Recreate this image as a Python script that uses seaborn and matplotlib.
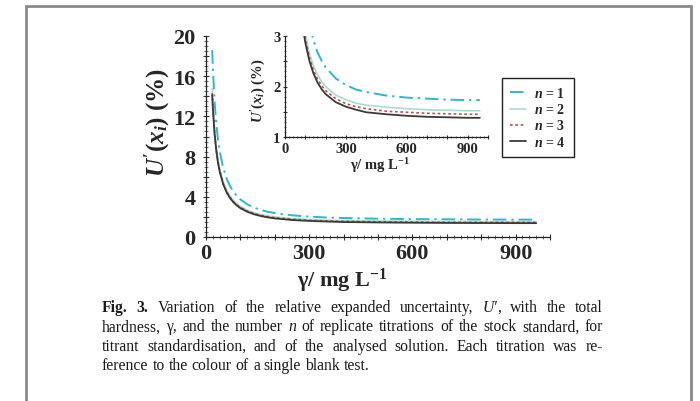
import numpy as np
import pandas as pd
import matplotlib
matplotlib.use("Agg")
import matplotlib.pyplot as plt
import seaborn as sns
from matplotlib.ticker import MultipleLocator, FuncFormatter
from matplotlib.patches import Rectangle
from matplotlib.lines import Line2D
from matplotlib.transforms import IdentityTransform

# ---------------- data ----------------
gamma = [18, 20, 25, 30, 35, 40, 50, 60, 70, 80, 90, 100, 120, 140, 160, 180,
         200, 250, 300, 350, 400, 500, 600, 700, 800, 900, 960]
u_n1 = [18.59, 16.74, 13.43, 11.23, 9.67, 8.50, 6.88, 5.81, 5.05, 4.50, 4.07, 3.74,
        3.25, 2.92, 2.68, 2.51, 2.38, 2.16, 2.03, 1.94, 1.89, 1.82, 1.78, 1.76,
        1.74, 1.73, 1.73]
u_n2 = [14.77, 13.31, 10.69, 8.94, 7.71, 6.78, 5.50, 4.66, 4.06, 3.63, 3.30, 3.04,
        2.66, 2.41, 2.23, 2.10, 2.00, 1.83, 1.74, 1.67, 1.63, 1.59, 1.56, 1.54,
        1.53, 1.52, 1.52]
u_n3 = [14.34, 12.92, 10.37, 8.68, 7.48, 6.58, 5.33, 4.51, 3.94, 3.51, 3.19, 2.94,
        2.57, 2.32, 2.15, 2.02, 1.92, 1.76, 1.66, 1.60, 1.56, 1.51, 1.49, 1.47,
        1.46, 1.45, 1.45]
u_n4 = [14.12, 12.72, 10.21, 8.54, 7.35, 6.47, 5.24, 4.43, 3.86, 3.44, 3.12, 2.87,
        2.51, 2.26, 2.08, 1.95, 1.85, 1.69, 1.60, 1.54, 1.49, 1.45, 1.42, 1.40,
        1.39, 1.38, 1.38]
series_names = ["n = 1", "n = 2", "n = 3", "n = 4"]
legend_labels = [r"$n$ = 1", r"$n$ = 2", r"$n$ = 3", r"$n$ = 4"]
main_xticklabels = ["0", "300", "600", "900"]
main_yticklabels = ["0", "4", "8", "12", "16", "20"]
inset_xticklabels = ["0", "300", "600", "900"]
inset_yticklabels = ["1", "2", "3"]

# ---------------- style ----------------
sns.set_theme(style="white")
plt.rcParams["font.family"] = ["Liberation Serif", "DejaVu Serif"]
plt.rcParams["font.weight"] = "bold"
plt.rcParams["mathtext.fontset"] = "custom"
plt.rcParams["mathtext.rm"] = "Liberation Serif:bold"
plt.rcParams["mathtext.bf"] = "Liberation Serif:bold"
plt.rcParams["mathtext.it"] = "Liberation Serif:italic:bold"
plt.rcParams["mathtext.bfit"] = "Liberation Serif:italic:bold"
plt.rcParams["axes.unicode_minus"] = True

colors = ["#2fb7cb", "#a9dccb", "#c0504d", "#3c3838"]
styles = [(0, (7, 2.5, 1.2, 2.5)), "-", (0, (1.6, 1.6)), "-"]
widths = [1.4, 1.2, 1.2, 1.3]

df = pd.DataFrame({
    "gamma": gamma * 4,
    "U": u_n1 + u_n2 + u_n3 + u_n4,
    "n": sum([[s] * len(gamma) for s in series_names], []),
})

W, H = 700, 402
fig = plt.figure(figsize=(W / 100, H / 100), dpi=100)
fig.patch.set_facecolor("white")


def fig_rect(left, top, right, bottom):
    return [left / W, 1 - bottom / H, (right - left) / W, (bottom - top) / H]


def draw_series(ax):
    for name, c, ls, lw in zip(series_names, colors, styles, widths):
        sub = df[df["n"] == name]
        sns.lineplot(data=sub, x="gamma", y="U", ax=ax, color=c,
                     linestyle=ls, linewidth=lw, legend=False, sort=True)


def style_axes(ax, lab_fs, major_len, minor_len):
    for sp in ["top", "right"]:
        ax.spines[sp].set_visible(False)
    for sp in ["left", "bottom"]:
        ax.spines[sp].set_color("#222222")
        ax.spines[sp].set_linewidth(0.9)
    ax.tick_params(which="major", direction="inout", length=major_len, width=0.8,
                   color="#333333", labelsize=lab_fs, pad=3,
                   left=True, bottom=True)
    ax.tick_params(which="minor", direction="inout", length=minor_len, width=0.6,
                   color="#555555", left=True, bottom=True)
    for lab in ax.get_xticklabels() + ax.get_yticklabels():
        lab.set_fontweight("bold")
    ax.set_facecolor("white")
    ax.grid(False)


# ---------------- main axes ----------------
ax = fig.add_axes(fig_rect(206, 37, 550, 238))
draw_series(ax)
ax.set_xlim(0, 1000)
ax.set_ylim(0, 20)
ax.xaxis.set_major_locator(MultipleLocator(100))
ax.xaxis.set_minor_locator(MultipleLocator(20))
ax.xaxis.set_major_formatter(FuncFormatter(
    lambda v, p: str(int(round(v))) if str(int(round(v))) in main_xticklabels else ""))
ax.yaxis.set_major_locator(MultipleLocator(2))
ax.yaxis.set_minor_locator(MultipleLocator(0.5))
ax.yaxis.set_major_formatter(FuncFormatter(
    lambda v, p: str(int(round(v))) if str(int(round(v))) in main_yticklabels else ""))
style_axes(ax, 16, 5, 3)
ax.tick_params(axis="y", which="major", pad=5)
ax.tick_params(axis="x", which="major", pad=2)
ax.set_xlabel(r"γ/ mg L$^{-1}$", fontsize=16, fontweight="bold")
ax.xaxis.set_label_coords(0.395, -0.142)
ax.set_ylabel(r"$U'(x_i)$ (%)", fontsize=18, fontweight="bold")
ax.yaxis.set_label_coords(-0.10, 0.575)

# ---------------- inset axes ----------------
ins = fig.add_axes(fig_rect(285, 37, 488, 138))
draw_series(ins)
ins.set_xlim(0, 1000)
ins.set_ylim(1, 3)
ins.xaxis.set_major_locator(MultipleLocator(100))
ins.xaxis.set_minor_locator(MultipleLocator(20))
ins.xaxis.set_major_formatter(FuncFormatter(
    lambda v, p: str(int(round(v))) if str(int(round(v))) in inset_xticklabels else ""))
ins.yaxis.set_major_locator(MultipleLocator(0.5))
ins.yaxis.set_minor_locator(MultipleLocator(0.1))
ins.yaxis.set_major_formatter(FuncFormatter(
    lambda v, p: str(int(round(v))) if abs(v - round(v)) < 1e-6 and str(int(round(v))) in inset_yticklabels else ""))
style_axes(ins, 10.5, 3.5, 2)
ins.tick_params(which="major", pad=1.5)
ins.set_xlabel(r"γ/ mg L$^{-1}$", fontsize=10.5, fontweight="bold")
ins.xaxis.set_label_coords(0.47, -0.18)
ins.set_ylabel(r"$U'(x_i)$ (%)", fontsize=10.5, fontweight="bold")
ins.yaxis.set_label_coords(-0.085, 0.47)

# ---------------- legend ----------------
handles = [Line2D([0], [0], color=c, linestyle=ls, linewidth=lw)
           for c, ls, lw in zip(colors, styles, widths)]
leg = fig.legend(handles, legend_labels, loc="upper left",
                 bbox_to_anchor=(502 / W, 1 - 79 / H), frameon=True,
                 fancybox=False, edgecolor="#222222", framealpha=1,
                 prop={"family": "Liberation Serif", "weight": "bold", "size": 10},
                 handlelength=1.1, handletextpad=0.6, labelspacing=0.15,
                 borderpad=0.6, borderaxespad=0)
leg.get_frame().set_linewidth(1.0)

# ---------------- outer frame ----------------
fig.patches.append(Rectangle((26 / W, -0.05), (691 - 26) / W, (H - 6.5) / H + 0.05,
                             transform=fig.transFigure, fill=False,
                             edgecolor="#8a8a8a", linewidth=2.0, zorder=10))

# ---------------- caption (justified) ----------------
renderer = fig.canvas.get_renderer()
ident = IdentityTransform()

caption_lines = [
    [[("Fig.", "b")], [("3.", "b")], [("Variation", "r")], [("of", "r")], [("the", "r")],
     [("relative", "r")], [("expanded", "r")], [("uncertainty,", "r")],
     [("U′", "i"), (",", "r")], [("with", "r")], [("the", "r")], [("total", "r")]],
    [[("hardness,", "r")], [("γ,", "r")], [("and", "r")], [("the", "r")], [("number", "r")],
     [("n", "i")], [("of", "r")], [("replicate", "r")], [("titrations", "r")], [("of", "r")],
     [("the", "r")], [("stock", "r")], [("standard,", "r")], [("for", "r")]],
    [[(w, "r")] for w in "titrant standardisation, and of the analysed solution. Each titration was re-".split()],
    [[(w, "r")] for w in "ference to the colour of a single blank test.".split()],
]
justify = [True, True, True, False]
baselines = [312, 331.5, 351, 370.5]
x_left, x_right = 102, 603


def make_text(s, style, fs):
    return fig.text(0, 0, s, transform=ident, fontsize=fs,
                    family="Liberation Serif",
                    weight="bold" if style == "b" else "normal",
                    style="italic" if style == "i" else "normal",
                    color="#1a1a1a", va="baseline", ha="left")


def width_of(t):
    return t.get_window_extent(renderer).width


# choose font size so that the last line has its natural width (~268 px)
probe = [make_text(w[0][0], "r", 10) for w in caption_lines[3]]
sp_probe = make_text("a a", "r", 10)
sp_probe2 = make_text("aa", "r", 10)
sp10 = width_of(sp_probe) - width_of(sp_probe2)
nat10 = sum(width_of(t) for t in probe) + sp10 * (len(probe) - 1)
for t in probe + [sp_probe, sp_probe2]:
    t.remove()
cap_fs = 10 * 268.0 / nat10

sp_a = make_text("a a", "r", cap_fs)
sp_b = make_text("aa", "r", cap_fs)
space_w = width_of(sp_a) - width_of(sp_b)
sp_a.remove()
sp_b.remove()

for words, just, yb in zip(caption_lines, justify, baselines):
    placed = []
    for word in words:
        runs = []
        for s, st in word:
            t = make_text(s, st, cap_fs)
            runs.append((t, width_of(t)))
        placed.append(runs)
    wsum = [sum(w for _, w in runs) for runs in placed]
    if just and len(placed) > 1:
        gap = (x_right - x_left - sum(wsum)) / (len(placed) - 1)
    else:
        gap = space_w
    x = x_left
    for runs, ww in zip(placed, wsum):
        xx = x
        for t, w in runs:
            t.set_position((xx, H - yb))
            xx += w
        x += ww + gap

fig.savefig("out.png", dpi=100, facecolor="white")
